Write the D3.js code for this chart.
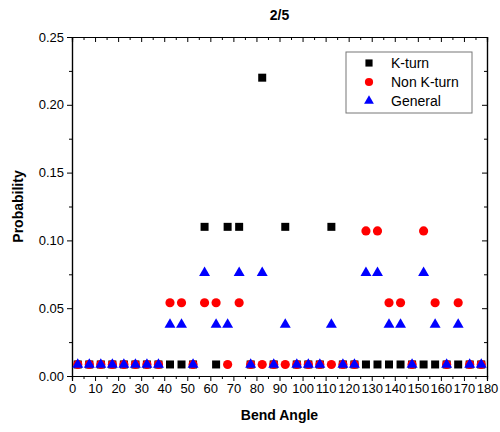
<!DOCTYPE html>
<html>
<head>
<meta charset="utf-8">
<script src="https://cdn.jsdelivr.net/npm/d3@7"></script>
<style>
  body { margin: 0; background: #fff; }
  svg { font-family: "Liberation Sans", Arial, sans-serif; }
</style>
</head>
<body>
<svg width="500" height="432"></svg>
<script>
// bin centres (degrees)
const angles = [2.5, 7.5, 12.5, 17.5, 22.5, 27.5, 32.5, 37.5, 42.5, 47.5,
  52.5, 57.5, 62.5, 67.5, 72.5, 77.5, 82.5, 87.5, 92.5, 97.5,
  102.5, 107.5, 112.5, 117.5, 122.5, 127.5, 132.5, 137.5, 142.5, 147.5,
  152.5, 157.5, 162.5, 167.5, 172.5, 177.5];

const kturn = [0.0085, 0.0085, 0.0085, 0.0085, 0.0085, 0.0085, 0.0085, 0.0085, 0.0085, 0.0085,
  0.0085, 0.11, 0.0085, 0.11, 0.11, 0.0085, 0.22, 0.0085, 0.11, 0.0085,
  0.0085, 0.0085, 0.11, 0.0085, 0.0085, 0.0085, 0.0085, 0.0085, 0.0085, 0.0085,
  0.0085, 0.0085, 0.0085, 0.0085, 0.0085, 0.0085];

const nonKturn = [0.0085, 0.0085, 0.0085, 0.0085, 0.0085, 0.0085, 0.0085, 0.0085, 0.054, 0.054,
  0.0085, 0.054, 0.054, 0.0085, 0.054, 0.0085, 0.0085, 0.0085, 0.0085, 0.0085,
  0.0085, 0.0085, 0.0085, 0.0085, 0.0085, 0.107, 0.107, 0.054, 0.054, 0.0085,
  0.107, 0.054, 0.0085, 0.054, 0.0085, 0.0085];

const general = [0.0085, 0.0085, 0.0085, 0.0085, 0.0085, 0.0085, 0.0085, 0.0085, 0.038, 0.038,
  0.0085, 0.076, 0.038, 0.038, 0.076, 0.0085, 0.076, 0.0085, 0.038, 0.0085,
  0.0085, 0.0085, 0.038, 0.0085, 0.0085, 0.076, 0.076, 0.038, 0.038, 0.0085,
  0.076, 0.038, 0.0085, 0.038, 0.0085, 0.0085];

const xTicks = d3.range(0, 181, 10);
const yTicks = [0, 0.05, 0.10, 0.15, 0.20, 0.25];

const series = [
  { name: "K-turn", values: kturn, color: "#000000", symbol: d3.symbolSquare, size: 64 },
  { name: "Non K-turn", values: nonKturn, color: "#ff0000", symbol: d3.symbolCircle, size: 66 },
  { name: "General", values: general, color: "#0000ff", symbol: d3.symbolTriangle, size: 52 }
];

const svg = d3.select("svg"),
      margin = { top: 37, right: 13, bottom: 56, left: 72 },
      width = +svg.attr("width"),
      height = +svg.attr("height");

const x = d3.scaleLinear().domain([0, 180]).range([margin.left, width - margin.right]);
const y = d3.scaleLinear().domain([0, 0.25]).range([height - margin.bottom, margin.top]);

const minorX = d3.range(5, 180, 10);
const minorY = [0.025, 0.075, 0.125, 0.175, 0.225];

// Axes
function styleAxis(g) {
  g.select(".domain").attr("stroke", "#000").attr("stroke-width", 1.2);
  g.selectAll(".tick line").attr("stroke", "#000");
  g.selectAll(".tick text").attr("font-size", 13).attr("fill", "#000")
    .attr("font-family", "Liberation Sans, Arial, sans-serif");
}

// bottom
svg.append("g")
  .attr("transform", `translate(0,${y(0)})`)
  .call(d3.axisBottom(x).tickValues(minorX).tickSize(3).tickFormat(""))
  .call(styleAxis);
svg.append("g")
  .attr("transform", `translate(0,${y(0)})`)
  .call(d3.axisBottom(x).tickValues(xTicks).tickSize(5).tickPadding(3).tickFormat(d3.format("d")))
  .call(styleAxis);

// top
svg.append("g")
  .attr("transform", `translate(0,${y(0.25)})`)
  .call(d3.axisTop(x).tickValues(minorX).tickSize(-3).tickFormat(""))
  .call(styleAxis);
svg.append("g")
  .attr("transform", `translate(0,${y(0.25)})`)
  .call(d3.axisTop(x).tickValues(xTicks).tickSize(-5).tickFormat(""))
  .call(styleAxis);

// left
svg.append("g")
  .attr("transform", `translate(${x(0)},0)`)
  .call(d3.axisLeft(y).tickValues(minorY).tickSize(3).tickFormat(""))
  .call(styleAxis);
svg.append("g")
  .attr("transform", `translate(${x(0)},0)`)
  .call(d3.axisLeft(y).tickValues(yTicks).tickSize(5).tickPadding(3).tickFormat(d3.format(".2f")))
  .call(styleAxis);

// right
svg.append("g")
  .attr("transform", `translate(${x(180)},0)`)
  .call(d3.axisRight(y).tickValues(minorY).tickSize(-3).tickFormat(""))
  .call(styleAxis);
svg.append("g")
  .attr("transform", `translate(${x(180)},0)`)
  .call(d3.axisRight(y).tickValues(yTicks).tickSize(-5).tickFormat(""))
  .call(styleAxis);

// Points
series.forEach(s => {
  svg.append("g")
    .selectAll("path")
    .data(s.values.map((v, i) => ({ angle: angles[i], value: v })))
    .enter()
    .append("path")
    .attr("d", d3.symbol().type(s.symbol).size(s.size))
    .attr("transform", d => `translate(${x(d.angle)},${y(d.value)})`)
    .attr("fill", s.color);
});

// Titles
svg.append("text")
  .attr("x", (x(0) + x(180)) / 2)
  .attr("y", 20)
  .attr("text-anchor", "middle")
  .attr("font-size", 14)
  .attr("font-weight", "bold")
  .text("2/5");

svg.append("text")
  .attr("x", (x(0) + x(180)) / 2)
  .attr("y", 420)
  .attr("text-anchor", "middle")
  .attr("font-size", 14)
  .attr("font-weight", "bold")
  .text("Bend Angle");

svg.append("text")
  .attr("transform", `translate(23,${(y(0) + y(0.25)) / 2}) rotate(-90)`)
  .attr("text-anchor", "middle")
  .attr("font-size", 14)
  .attr("font-weight", "bold")
  .text("Probability");

// Legend
const legend = svg.append("g").attr("transform", "translate(346,52)");
legend.append("rect")
  .attr("width", 126)
  .attr("height", 61)
  .attr("fill", "#fff")
  .attr("stroke", "#777")
  .attr("stroke-width", 1);

series.forEach((s, i) => {
  const row = legend.append("g").attr("transform", `translate(0,${11 + i * 19})`);
  row.append("path")
    .attr("d", d3.symbol().type(s.symbol).size(s.size * 0.8))
    .attr("transform", "translate(23,0)")
    .attr("fill", s.color);
  row.append("text")
    .attr("x", 45)
    .attr("y", 5)
    .attr("font-size", 14)
    .text(s.name);
});
</script>
</body>
</html>
